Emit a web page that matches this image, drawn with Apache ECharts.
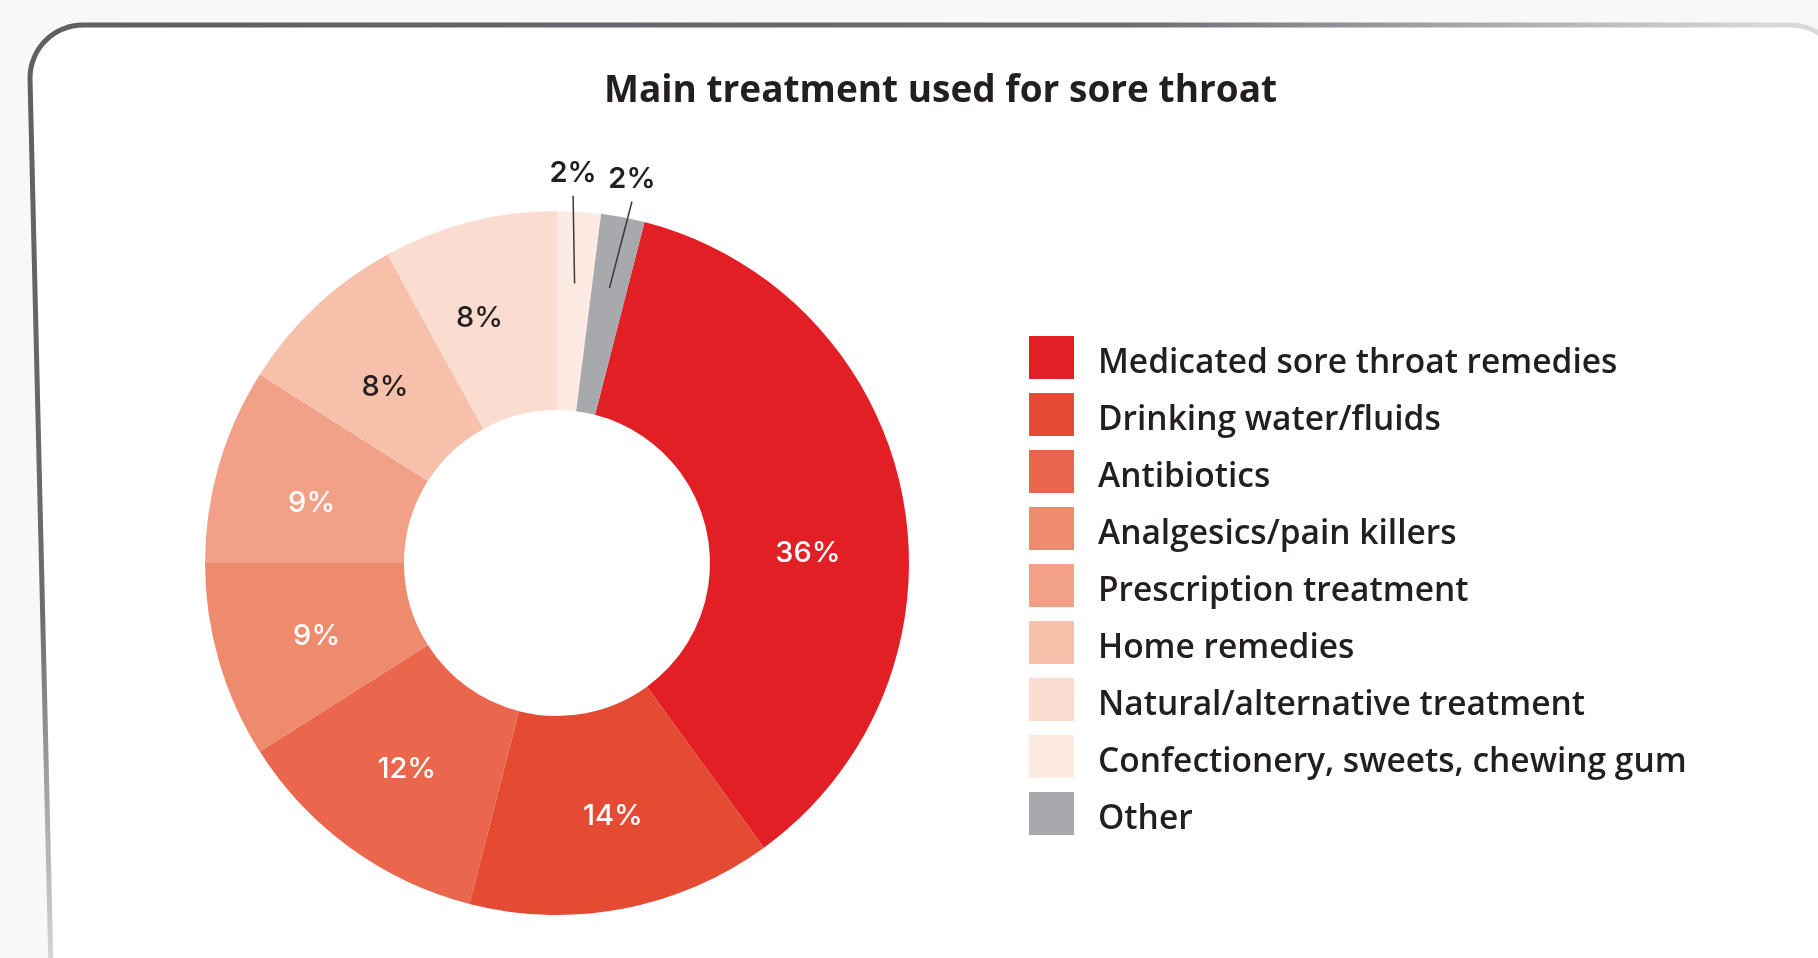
<!DOCTYPE html>
<html>
<head>
<meta charset="utf-8">
<title>Main treatment used for sore throat</title>
<script src="https://cdn.jsdelivr.net/npm/echarts@6/dist/echarts.min.js"></script>
<style>
  html, body { margin: 0; padding: 0; background: #f8f8f8; }
  #chart { width: 1818px; height: 958px; }
</style>
</head>
<body>
<div id="chart"></div>
<script>
// Survey shares (%) of the main treatment used for a sore throat
const categories = [
  'Medicated sore throat remedies',
  'Drinking water/fluids',
  'Antibiotics',
  'Analgesics/pain killers',
  'Prescription treatment',
  'Home remedies',
  'Natural/alternative treatment',
  'Confectionery, sweets, chewing gum',
  'Other'
];
const shares = [36, 14, 12, 9, 9, 8, 8, 2, 2];

// Slice colours, in category order
const palette = ['#e31f26', '#e54a33', '#ea664c', '#ef8b6d', '#f2a188', '#f7c0aa', '#fbdcd0', '#fdebe3', '#a7a9ac'];
// Pale slices get dark value labels
const darkLabelCategories = ['Home remedies', 'Natural/alternative treatment'];
// Small hand adjustments of some in-ring value labels (px)
const labelNudge = {
  'Medicated sore throat remedies': [0, 38],
  'Drinking water/fluids': [8, 2],
  'Analgesics/pain killers': [5, 2],
  'Prescription treatment': [0, 12],
  'Home remedies': [3, 11],
  'Natural/alternative treatment': [-14, 3]
};
// Sideways spread of the two outside labels so they do not touch (px)
const leaderNudge = {
  'Confectionery, sweets, chewing gum': -7,
  'Other': 6
};
// Slices this small are labelled outside the ring with a leader line
const smallShare = 5;

const total = shares.reduce((a, b) => a + b, 0);
// The two smallest trailing slices sit just right of 12 o'clock
const trailing = shares[shares.length - 1] + shares[shares.length - 2];
const startAngle = 90 - trailing / total * 360;

const titleFace = '"Open Sans", Lato, sans-serif';
const legendFace = '"Open Sans", Lato, sans-serif';
const labelFace = 'Inter, "Open Sans", sans-serif';
const ink = '#231f20';

const ringData = categories.map((name, i) => {
  const small = shares[i] < smallShare;
  const dark = darkLabelCategories.includes(name);
  return {
    name,
    value: shares[i],
    itemStyle: { color: palette[i] },
    label: {
      show: !small,
      color: dark ? ink : '#ffffff',
      offset: labelNudge[name] || [0, 0]
    }
  };
});

const leaderData = categories.map((name, i) => ({
  name,
  value: shares[i],
  label: { show: shares[i] < smallShare },
  labelLine: { show: shares[i] < smallShare }
}));

// Outline of the white card: rounded top corners, left edge leaning slightly outwards
function cardOutline() {
  const pts = [];
  const rTL = 53, rTR = 55;
  const left = 30, top = 25, right = 1845, bottom = 1010;
  for (let k = 0; k <= 16; k++) {
    const a = Math.PI + (Math.PI / 2) * (k / 16);
    pts.push([left + rTL + rTL * Math.cos(a), top + rTL + rTL * Math.sin(a)]);
  }
  for (let k = 0; k <= 16; k++) {
    const a = 1.5 * Math.PI + (Math.PI / 2) * (k / 16);
    pts.push([right - rTR + rTR * Math.cos(a), top + rTR + rTR * Math.sin(a)]);
  }
  pts.push([right, bottom]);
  pts.push([left + 22, bottom]);
  return pts;
}

// Shared legend layout; the swatches and the names are drawn by two
// stacked legends so the names can sit a little lower than swatch centres
const legendBase = {
  orient: 'vertical',
  left: 1029,
  padding: 0,
  icon: 'rect',
  itemWidth: 45,
  itemHeight: 43,
  itemGap: 14,
  selectedMode: false,
  data: categories
};
const legendText = {
  fontFamily: legendFace, fontWeight: 600, fontSize: 33.5,
  padding: [0, 0, 0, 19]
};

const chart = echarts.init(document.getElementById('chart'), null, { renderer: 'canvas' });

chart.setOption({
  backgroundColor: '#f8f8f8',
  animation: false,
  graphic: [{
    type: 'polygon',
    z: -10,
    shape: { points: cardOutline() },
    style: {
      fill: '#ffffff',
      lineWidth: 5,
      lineJoin: 'round',
      stroke: {
        type: 'linear', global: true, x: 0, y: 0, x2: 492, y2: 897,
        colorStops: [
          { offset: 0, color: '#5d5e60' },
          { offset: 0.55, color: '#6c6d70' },
          { offset: 0.7, color: '#a3a4a6' },
          { offset: 0.85, color: '#d5d6d7' },
          { offset: 1, color: '#ececec' }
        ]
      }
    }
  }],
  title: {
    text: 'Main treatment used for sore throat',
    left: 604,
    top: 73,
    padding: 0,
    textStyle: { fontFamily: titleFace, fontWeight: 'bold', fontSize: 37, color: ink }
  },
  legend: [
    Object.assign({}, legendBase, {
      top: 336,
      textStyle: Object.assign({}, legendText, { color: 'rgba(0,0,0,0)' })
    }),
    Object.assign({}, legendBase, {
      top: 342,
      itemStyle: { color: 'rgba(0,0,0,0)', borderWidth: 0 },
      textStyle: Object.assign({}, legendText, { color: ink })
    })
  ],
  series: [{
    type: 'pie',
    name: 'share',
    z: 2,
    center: [557, 563],
    radius: [153, 352],
    startAngle: startAngle,
    clockwise: true,
    avoidLabelOverlap: false,
    itemStyle: { borderWidth: 0 },
    emphasis: { disabled: true },
    label: {
      position: 'inside',
      formatter: '{c}%',
      fontFamily: labelFace,
      fontWeight: 500,
      fontSize: 29
    },
    labelLine: { show: false },
    data: ringData
  }, {
    // Invisible inner ring that carries the leader lines for the smallest slices
    type: 'pie',
    name: 'leaders',
    z: 4,
    silent: true,
    center: [557, 563],
    radius: [0, 280],
    startAngle: startAngle,
    clockwise: true,
    avoidLabelOverlap: false,
    itemStyle: { color: 'rgba(0,0,0,0)', borderWidth: 0 },
    emphasis: { disabled: true },
    label: {
      position: 'outside',
      formatter: '{c}%',
      fontFamily: labelFace,
      fontWeight: 600,
      fontSize: 29,
      color: ink
    },
    labelLine: {
      length: 88,
      length2: 0,
      smooth: false,
      lineStyle: { color: '#3a3a3a', width: 1.5 }
    },
    labelLayout: function (params) {
      const pts = params.labelLinePoints;
      if (!pts) return {};
      const dx = leaderNudge[categories[params.dataIndex]] || 0;
      const end = [pts[1][0] + dx, pts[1][1]];
      return {
        x: end[0],
        y: end[1] - 8,
        align: 'center',
        verticalAlign: 'bottom',
        labelLinePoints: [pts[0], end, end]
      };
    },
    data: leaderData
  }]
});
</script>
</body>
</html>
